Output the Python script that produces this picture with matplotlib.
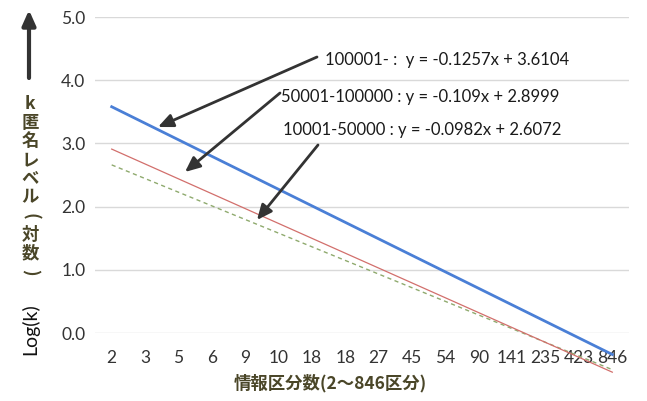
import matplotlib.pyplot as plt

# category labels (x axis) and trendline endpoints
categories = ['2', '3', '5', '6', '9', '10', '18', '18', '27', '45', '54',
              '90', '141', '235', '423', '846']
blue_line = [3.58, -0.34]    # 100001-
red_line = [2.91, -0.62]     # 50001-100000
green_line = [2.66, -0.58]   # 10001-50000
yticks = [0, 1, 2, 3, 4, 5]

W, H = 647, 401
fig = plt.figure(figsize=(W / 100, H / 100), dpi=100)
ax = fig.add_axes([95 / W, 1 - 333 / H, 534 / W, 316 / H])

ends = [0, len(categories) - 1]
ax.plot(ends, green_line, color='#8faa6e', lw=1.0, ls=(0, (3, 2.5)), clip_on=False)
ax.plot(ends, red_line, color='#d26f6c', lw=0.9, clip_on=False)
ax.plot(ends, blue_line, color='#4a7fd6', lw=2.0, clip_on=False)

ax.set_xlim(-0.5, len(categories) - 0.5)
ax.set_ylim(0, 5)
ax.set_xticks(range(len(categories)))
ax.set_xticklabels(categories)
ax.set_yticks(yticks)
ax.set_yticklabels(['%.1f' % v for v in yticks])
ax.tick_params(length=0, labelsize=12.5, labelcolor='#333333', labelfontfamily='Lato')
ax.tick_params(axis='x', pad=12)
ax.tick_params(axis='y', pad=7)
ax.grid(axis='y', color='#d9d9d9', lw=1)
ax.set_axisbelow(True)
for s in ax.spines.values():
    s.set_visible(False)

def px(x, y):
    return (x / W, 1 - y / H)

# trendline equations and arrows
labels = [("100001- :  y = -0.1257x + 3.6104", 325, 60),
          ("50001-100000 : y = -0.109x + 2.8999", 281, 97),
          ("10001-50000 : y = -0.0982x + 2.6072", 283, 130)]
for txt, x, y in labels:
    fig.text(*px(x, y), txt, fontsize=12, family='Lato', color='#1a1a1a',
             ha='left', va='center')

arrows = [((317, 57), (158, 127)),
          ((280, 93), (185, 172)),
          ((318, 145), (257, 220))]
for start, tip in arrows:
    ax.annotate('', xy=px(*tip), xytext=px(*start), xycoords='figure fraction',
                textcoords='figure fraction',
                arrowprops=dict(arrowstyle='-|>,head_length=0.9,head_width=0.4',
                                color='#333333', lw=2, shrinkA=0, shrinkB=0))

# y axis label: arrow, stacked Japanese text, Log(k)
ax.annotate('', xy=px(29, 10), xytext=px(29, 78), xycoords='figure fraction',
            textcoords='figure fraction',
            arrowprops=dict(arrowstyle='-|>,head_length=0.9,head_width=0.4',
                            color='#333333', lw=3, shrinkA=0, shrinkB=0))
ylabel_chars = ['k', '匿', '名', 'レ', 'ベ', 'ル', '(', '対', '数', ')']
for i, ch in enumerate(ylabel_chars):
    rot = -90 if ch in '()' else 0
    fig.text(*px(30, 104 + i * 18.7), ch, fontsize=12.5, fontweight='bold',
             family=['Noto Sans CJK JP', 'DejaVu Sans'], color='#4a4628',
             ha='center', va='center', rotation=rot)
fig.text(*px(30, 329), 'Log(k)', fontsize=14, family='Lato', color='#111111',
         rotation=90, ha='center', va='center')

fig.text(*px(330, 383), '情報区分数(2～846区分)', fontsize=12.5, fontweight='bold',
         family=['Noto Sans CJK JP', 'DejaVu Sans'], color='#4a4628',
         ha='center', va='center')

fig.savefig('out.png', dpi=100)
